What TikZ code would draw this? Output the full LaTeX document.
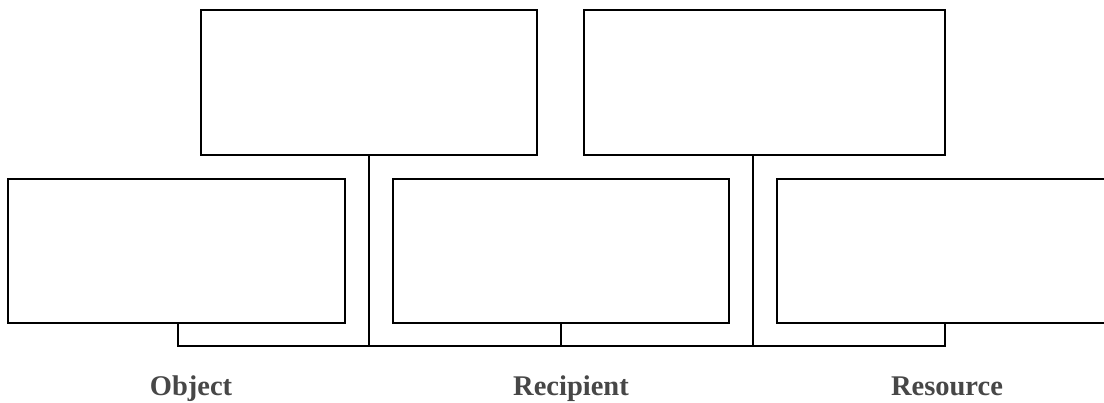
\documentclass[tikz,border=0pt]{standalone}
\usepackage{fontspec}
\setmainfont{Liberation Serif}
\begin{document}
\begin{tikzpicture}[x=1pt,y=1pt,
  box/.style={draw=black,line width=1.6pt,fill=white,inner sep=0pt,outer sep=0pt,minimum height=144pt},
  conn/.style={draw=black,line width=1.6pt},
  lbl/.style={anchor=base,font=\fontsize{28.5}{30}\selectfont\bfseries,text=black!72}]
\clip (0,0) rectangle (1104,403);
\fill[white] (0,0) rectangle (1104,403);
\node[box,minimum width=336pt,minimum height=145pt] (tl) at (369,320.5) {};
\node[box,minimum width=361pt,minimum height=145pt] (tr) at (764.5,320.5) {};
\node[box,minimum width=337pt] (bl) at (176.5,152) {};
\node[box,minimum width=336pt] (bm) at (561,152) {};
\node[box,minimum width=340pt] (br) at (947,152) {};
\coordinate (busL) at (178,57);
\coordinate (busR) at (945,57);
\coordinate (trj) at (753,57);
\draw[conn] (bl.south -| busL) -- (busL) -- (busR) -- (br.south -| busR);
\draw[conn] (tl.south) -- (tl.south |- busL);
\draw[conn] (bm.south) -- (bm.south |- busL);
\draw[conn] (tr.south -| trj) -- (trj);
\node[lbl] (obj) at (191,7) {Object};
\node[lbl] (rec) at (571,7) {Recipient};
\node[lbl] (res) at (947,7) {Resource};
\end{tikzpicture}
\end{document}
